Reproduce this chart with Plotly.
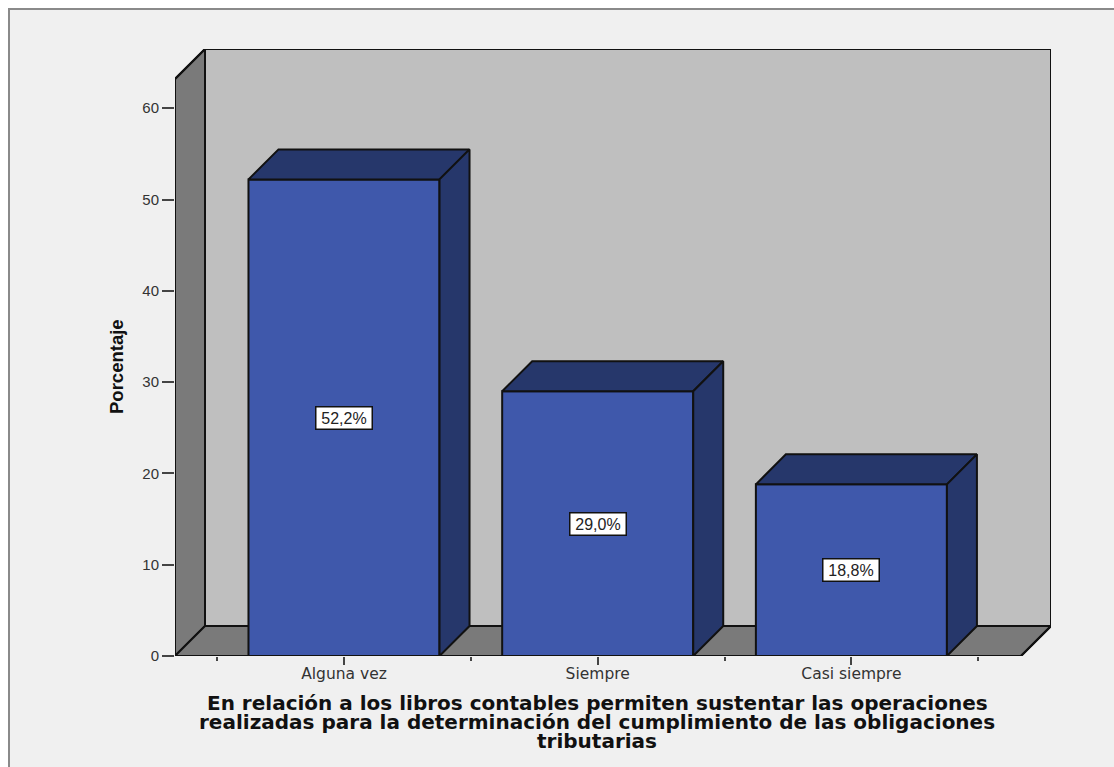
import plotly.graph_objects as go

categories = ["Alguna vez", "Siempre", "Casi siempre"]
values = [52.2, 29.0, 18.8]
labels = ["52,2%", "29,0%", "18,8%"]
y_ticks = [0, 10, 20, 30, 40, 50, 60]
title_lines = [
    "En relación a los libros contables permiten sustentar las operaciones",
    "realizadas para la determinación del cumplimiento de las obligaciones",
    "tributarias",
]
y_title = "Porcentaje"

W, H = 1114, 767
L, R, T, B = 175, 1051, 49, 656
X_PER_CAT = 253.7
Y_PER_UNIT = 9.13
X_FIRST = 344
DEPTH = 30
BAR_W = 0.753

x_min = (L - X_FIRST) / X_PER_CAT
x_max = (R - X_FIRST) / X_PER_CAT
y_max = (B - T) / Y_PER_UNIT
dx = DEPTH / X_PER_CAT
dy = DEPTH / Y_PER_UNIT
xs = list(range(len(categories)))

EDGE = "#111111"
WALL = "#bfbfbf"
FLOOR = "#7a7a7a"
BAR = "#3f58ab"
BAR_DARK = "#26376b"
BG = "#f0f0f0"
FRAME = "#8a8a8a"
TXT = "#333333"
LW = 2


def poly(px, py):
    return "M " + " L ".join(f"{a},{b}" for a, b in zip(px, py)) + " Z"


shapes = [
    dict(type="rect", xref="paper", yref="paper", x0=9 / W, x1=1.02, y0=-0.02, y1=1 - 9 / H,
         fillcolor=BG, line=dict(color=FRAME, width=2), layer="below"),
    dict(type="path", xref="x", yref="y", layer="below", fillcolor=WALL, line=dict(color=EDGE, width=LW),
         path=poly([x_min + dx, x_max, x_max, x_min + dx], [dy, dy, y_max, y_max])),
    dict(type="path", xref="x", yref="y", layer="below", fillcolor=FLOOR, line=dict(color=EDGE, width=LW),
         path=poly([x_min, x_min + dx, x_min + dx, x_min], [0, dy, y_max, y_max - dy])),
    dict(type="path", xref="x", yref="y", layer="below", fillcolor=FLOOR, line=dict(color=EDGE, width=LW),
         path=poly([x_min, x_max - dx, x_max, x_min + dx], [0, 0, dy, dy])),
]

fig = go.Figure()
fig.add_trace(go.Bar(x=xs, y=values, width=BAR_W, marker=dict(color=BAR, line=dict(color=EDGE, width=LW)),
                     cliponaxis=False, hoverinfo="skip"))

for x, v in zip(xs, values):
    a, b = x - BAR_W / 2, x + BAR_W / 2
    fig.add_trace(go.Scatter(x=[a, b, b + dx, a + dx, a], y=[v, v, v + dy, v + dy, v], mode="lines",
                             fill="toself", fillcolor=BAR_DARK, line=dict(color=EDGE, width=LW),
                             cliponaxis=False, hoverinfo="skip"))
    fig.add_trace(go.Scatter(x=[b, b + dx, b + dx, b, b], y=[0, dy, v + dy, v, 0], mode="lines",
                             fill="toself", fillcolor=BAR_DARK, line=dict(color=EDGE, width=LW),
                             cliponaxis=False, hoverinfo="skip"))

# outer edges that the plot area would otherwise clip
fig.add_trace(go.Scatter(x=[x_min, x_min, x_min + dx, x_max, x_max, x_max - dx, x_min],
                         y=[0, y_max - dy, y_max, y_max, dy, 0, 0], mode="lines",
                         line=dict(color=EDGE, width=LW), cliponaxis=False, hoverinfo="skip"))

annotations = []
for x, v, t in zip(xs, values, labels):
    annotations.append(dict(x=x, y=v / 2, xref="x", yref="y", text=t, showarrow=False,
                            font=dict(family="Liberation Sans", size=16, color="#222222"),
                            bgcolor="white", bordercolor=EDGE, borderwidth=1.5, borderpad=1,
                            width=53, height=19))
for line, py in zip(title_lines, [703, 722, 741]):
    annotations.append(dict(x=597 / W, y=1 - py / H, xref="paper", yref="paper", text=line, showarrow=False,
                            xanchor="center", yanchor="middle",
                            font=dict(family="DejaVu Sans", size=20, color="#111111", weight="bold")))
annotations.append(dict(x=116 / W, y=1 - 367 / H, xref="paper", yref="paper", text=y_title, showarrow=False,
                        textangle=-90, xanchor="center", yanchor="middle",
                        font=dict(family="Liberation Sans", size=18.5, color="#111111", weight="bold")))

fig.update_layout(
    width=W, height=H, margin=dict(l=0, r=0, t=0, b=0, autoexpand=False),
    paper_bgcolor="white", plot_bgcolor="rgba(0,0,0,0)",
    showlegend=False, shapes=shapes, annotations=annotations,
    xaxis=dict(domain=[L / W, R / W], range=[x_min, x_max], tickmode="array", tickvals=xs, ticktext=categories,
               ticks="outside", ticklen=8, tickcolor="#444444", tickwidth=1.5, showline=False, showgrid=False,
               zeroline=False, ticklabelstandoff=-5, tickfont=dict(family="DejaVu Sans", size=15.5, color=TXT),
               minor=dict(tickmode="array", tickvals=[x - 0.5 for x in xs] + [xs[-1] + 0.5],
                          ticks="outside", ticklen=4, tickcolor="#444444", tickwidth=1.5, showgrid=False)),
    yaxis=dict(domain=[1 - B / H, 1 - T / H], range=[0, y_max], tickmode="array", tickvals=y_ticks,
               ticks="outside", ticklen=12, tickcolor="#444444", tickwidth=1.5, showline=False, showgrid=False,
               zeroline=False, tickfont=dict(family="Liberation Sans", size=15, color=TXT)),
)

fig.write_html("out.html", post_script="document.body.style.margin='0';", config=dict(displayModeBar=False))
